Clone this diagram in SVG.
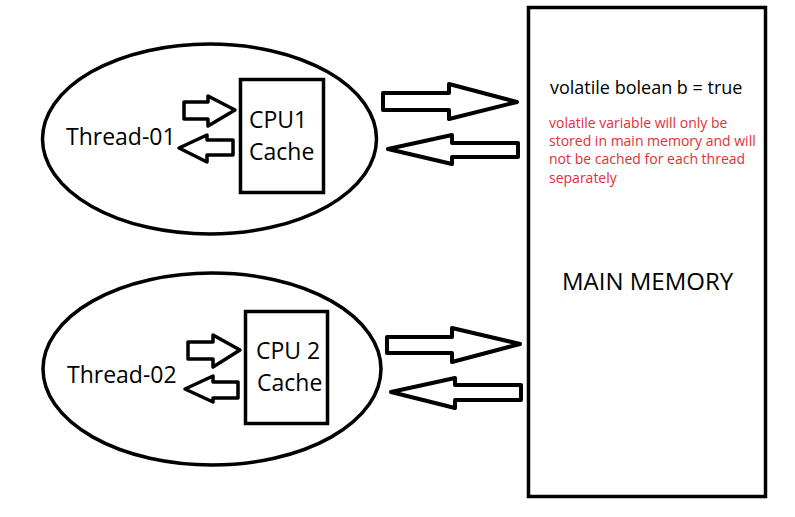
<svg xmlns="http://www.w3.org/2000/svg" width="795" height="517" viewBox="0 0 795 517">
<style>
.ln{fill:none;stroke:#000;stroke-width:3.5;stroke-linejoin:miter}
.ar{fill:#fff;stroke:#000;stroke-width:4;stroke-linejoin:round}
.sa{fill:#fff;stroke:#000;stroke-width:3.5;stroke-linejoin:round}
.t{font-family:"Open Sans",Lato,sans-serif;fill:#000}
.r{font-family:"Open Sans",Lato,sans-serif;fill:#e0303a;font-size:14px}
</style>
<rect width="795" height="517" fill="#fff"/>
<g id="thread1">
<ellipse cx="209.5" cy="139" rx="167" ry="95" class="ln"/>
<text x="66" y="145" class="t" font-size="23">Thread-01</text>
</g>
<g id="cpu1">
<rect x="240.5" y="79.5" width="83" height="113" class="ln" stroke-width="4"/>
<text x="249" y="128" class="t" font-size="23">CPU1</text>
<text x="249" y="160" class="t" font-size="23">Cache</text>
</g>
<g id="thread2">
<ellipse cx="212" cy="369" rx="169" ry="96" class="ln"/>
<text x="67" y="383" class="t" font-size="23">Thread-02</text>
</g>
<g id="cpu2">
<rect x="245.5" y="311.5" width="82" height="112" class="ln" stroke-width="4"/>
<text x="256" y="359" class="t" font-size="23">CPU 2</text>
<text x="257" y="391" class="t" font-size="23">Cache</text>
</g>
<g id="memory">
<rect x="528.5" y="7.5" width="237" height="489" class="ln" stroke-width="5"/>
<text x="550" y="94" class="t" font-size="18">volatile bolean b = true</text>
<text class="r"><tspan x="549" y="128">volatile variable will only be</tspan><tspan x="549" y="146">stored in main memory and will</tspan><tspan x="549" y="164">not be cached for each thread</tspan><tspan x="549" y="183">separately</tspan></text>
<text x="562" y="290" class="t" font-size="24">MAIN MEMORY</text>
</g>
<g id="connectors">
<path class="sa" d="M184,102 L208,102 L208,96 L235,110 L208,126 L208,119 L184,119 Z"/>
<path class="sa" d="M233,140 L207,140 L207,135 L179,148 L207,162 L207,155 L233,155 Z"/>
<path class="sa" d="M188,342 L213,342 L213,335 L240,350 L213,367 L213,359 L188,359 Z"/>
<path class="sa" d="M238,382 L213,382 L213,376 L185,389 L213,402 L213,398 L238,398 Z"/>
<path class="ar" d="M383,93 L449,93 L449,84 L517,102 L449,119 L449,110 L383,110 Z"/>
<path class="ar" d="M518,143 L452,143 L452,135 L388,149 L452,164 L452,157 L518,157 Z"/>
<path class="ar" d="M387,337 L452,337 L452,328 L520,344 L452,362 L452,353 L387,353 Z"/>
<path class="ar" d="M521,385 L455,385 L455,378 L391,392 L455,408 L455,400 L521,400 Z"/>
</g>
</svg>
